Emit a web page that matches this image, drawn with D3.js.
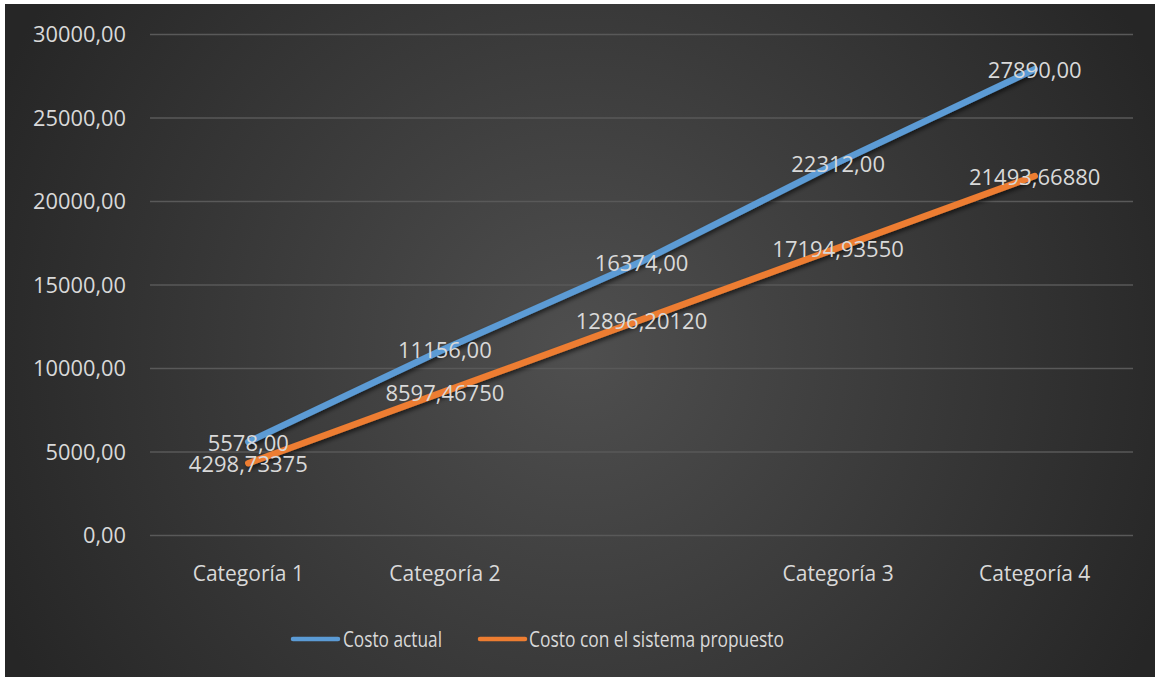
<!DOCTYPE html>
<html>
<head>
<meta charset="utf-8">
<script src="https://cdn.jsdelivr.net/npm/d3@7"></script>
<style>
  html, body { margin: 0; padding: 0; background: #ffffff; }
  svg { display: block; }
  text { font-family: "Open Sans", "DejaVu Sans", sans-serif; }
</style>
</head>
<body>
<svg id="chart" width="1155" height="677"></svg>
<script>
const categories = ["Categoría 1", "Categoría 2", "", "Categoría 3", "Categoría 4"];
const costoActual = [5578.00, 11156.00, 16374.00, 22312.00, 27890.00];
const costoPropuesto = [4298.73375, 8597.46750, 12896.20120, 17194.93550, 21493.66880];
const seriesNames = ["Costo actual", "Costo con el sistema propuesto"];
const yTicks = [0, 5000, 10000, 15000, 20000, 25000, 30000];

const W = 1155, H = 677;
const svg = d3.select("#chart");
const defs = svg.append("defs");

const grad = defs.append("radialGradient")
  .attr("id", "bg").attr("gradientUnits", "userSpaceOnUse")
  .attr("cx", 580).attr("cy", 350).attr("r", 640);
grad.append("stop").attr("offset", "0%").attr("stop-color", "#4f4f4f");
grad.append("stop").attr("offset", "100%").attr("stop-color", "#262626");

const shadow = defs.append("filter").attr("id", "shadow")
  .attr("x", "-10%").attr("y", "-10%").attr("width", "120%").attr("height", "130%");
shadow.append("feDropShadow").attr("dx", 1.5).attr("dy", 2.5)
  .attr("stdDeviation", 2).attr("flood-color", "#000").attr("flood-opacity", 0.6);

svg.append("rect").attr("x", 5).attr("y", 4).attr("width", W - 5).attr("height", H - 4)
  .attr("fill", "url(#bg)");

const plot = { left: 150, right: 1133, top: 34, bottom: 535 };

const x = d3.scaleBand().domain(d3.range(categories.length))
  .range([plot.left, plot.right]).paddingInner(0).paddingOuter(0);
const y = d3.scaleLinear().domain([0, 30000]).range([plot.bottom, plot.top]);

const fmt2 = v => d3.format(".2f")(v).replace(".", ",");
const fmt5 = v => d3.format(".5f")(v).replace(".", ",");

// grid
const yAxis = d3.axisLeft(y).tickValues(yTicks).tickSize(-(plot.right - plot.left))
  .tickFormat(fmt2).tickPadding(24);
const gy = svg.append("g").attr("transform", `translate(${plot.left},0)`).call(yAxis);
gy.select(".domain").remove();
gy.selectAll(".tick line").attr("stroke", "#595959").attr("stroke-width", 1.3);
gy.selectAll(".tick text").attr("fill", "#d9d9d9").attr("font-size", 21.8)
  .attr("dy", "0.36em");

// x axis labels
const xAxis = d3.axisBottom(x).tickSize(0).tickPadding(31).tickFormat(i => categories[i]);
const gx = svg.append("g").attr("transform", `translate(0,${plot.bottom})`).call(xAxis);
gx.select(".domain").remove();
gx.selectAll(".tick text").attr("fill", "#d9d9d9").attr("font-size", 21);

const cx = i => x(i) + x.bandwidth() / 2;
const line = d3.line().x((d, i) => cx(i)).y(d => y(d));

const series = [
  { name: seriesNames[0], values: costoActual, color: "#5b9bd5", fmt: fmt2 },
  { name: seriesNames[1], values: costoPropuesto, color: "#ed7d31", fmt: fmt5 }
];

series.forEach(s => {
  svg.append("path").datum(s.values).attr("d", line)
    .attr("fill", "none").attr("stroke", s.color).attr("stroke-width", 6.5)
    .attr("stroke-linecap", "round").attr("stroke-linejoin", "round")
    .attr("filter", "url(#shadow)");
});

series.forEach(s => {
  svg.append("g").selectAll("text").data(s.values).join("text")
    .attr("x", (d, i) => cx(i)).attr("y", d => y(d))
    .attr("dy", "0.42em").attr("text-anchor", "middle")
    .attr("fill", "#d9d9d9").attr("font-size", 22)
    .text(d => s.fmt(d));
});

// legend
const legendItems = [
  { x1: 293, x2: 338, tx: 343, len: 99 },
  { x1: 480, x2: 525, tx: 529, len: 255 }
];
series.forEach((s, k) => {
  const L = legendItems[k];
  svg.append("line").attr("x1", L.x1).attr("x2", L.x2).attr("y1", 639).attr("y2", 639)
    .attr("stroke", s.color).attr("stroke-width", 4.5).attr("stroke-linecap", "round");
  svg.append("text").attr("x", L.tx).attr("y", 639).attr("dy", "0.36em")
    .attr("fill", "#d9d9d9").attr("font-size", 21)
    .attr("textLength", L.len).attr("lengthAdjust", "spacingAndGlyphs")
    .text(s.name);
});
</script>
</body>
</html>
